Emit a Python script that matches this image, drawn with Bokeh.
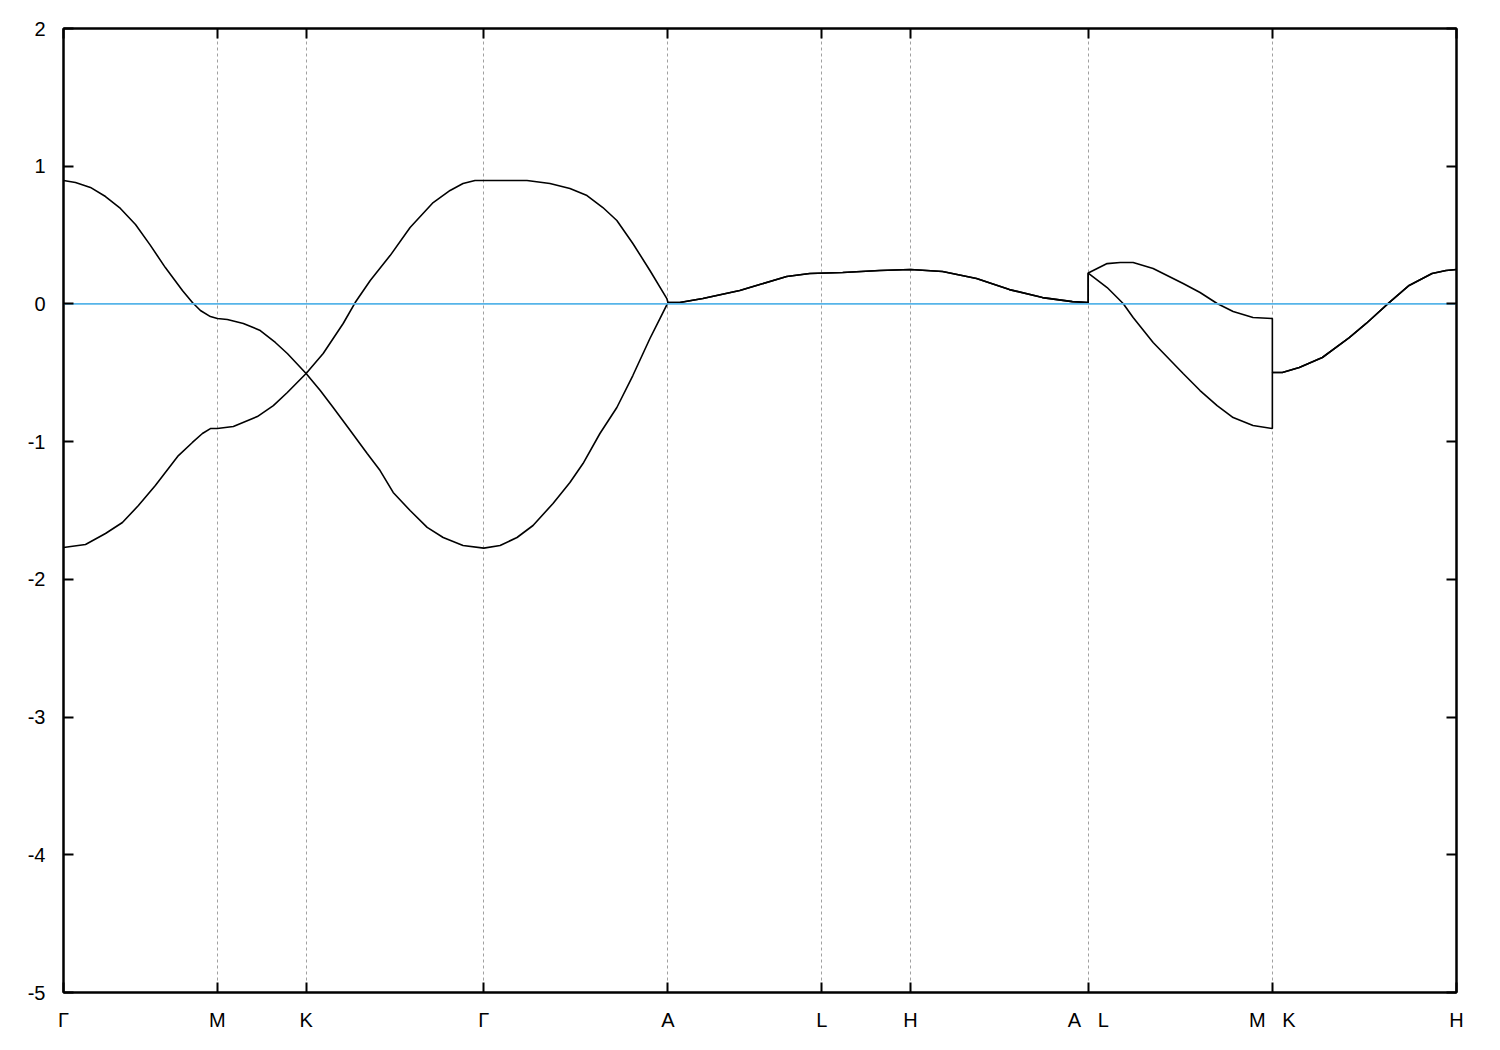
from bokeh.plotting import figure
from bokeh.models import Range1d, FixedTicker, LinearAxis, Grid
from bokeh.embed import file_html
from bokeh.resources import INLINE

# High-symmetry points (path coordinate) and labels
tick_pos = [0.0, 1.0, 1.577, 2.732, 3.929, 4.929, 5.506, 6.661, 7.858, 9.055]
nb = "\u00a0"
tick_labels = ["Γ", "M", "K", "Γ", "A", "L", "H", "A" + nb * 3 + "L", "M" + nb * 3 + "K", "H"]
y_ticks = [-5, -4, -3, -2, -1, 0, 1, 2]

# Band 1 (starts at +0.9 eV at Γ): Γ-M-K-Γ-A
b1_k = [0.0, 0.078, 0.175, 0.273, 0.370, 0.468, 0.565, 0.662, 0.773, 0.838, 0.890, 0.955,
        1.0, 1.065, 1.169, 1.279, 1.377, 1.455, 1.577, 1.669, 1.753, 1.864, 1.974, 2.058,
        2.143, 2.253, 2.364, 2.468, 2.597, 2.732, 2.838, 2.948, 3.052, 3.182, 3.292, 3.377,
        3.487, 3.597, 3.701, 3.812, 3.877, 3.929]
b1_e = [0.896, 0.882, 0.846, 0.780, 0.693, 0.577, 0.425, 0.264, 0.097, 0.010, -0.048, -0.092,
        -0.106, -0.113, -0.142, -0.193, -0.280, -0.360, -0.505, -0.629, -0.752, -0.919, -1.086, -1.210,
        -1.369, -1.500, -1.623, -1.696, -1.754, -1.773, -1.754, -1.696, -1.609, -1.449, -1.297, -1.159,
        -0.941, -0.752, -0.520, -0.251, -0.106, 0.010]

# Band 2 (starts at -1.77 eV at Γ): Γ-M-K-Γ-A
b2_k = [0.0, 0.143, 0.273, 0.383, 0.487, 0.597, 0.682, 0.747, 0.838, 0.903, 0.955, 1.0,
        1.104, 1.260, 1.364, 1.455, 1.577, 1.688, 1.753, 1.818, 1.896, 1.994, 2.123, 2.253,
        2.403, 2.513, 2.597, 2.675, 2.732, 3.013, 3.162, 3.292, 3.403, 3.506, 3.597, 3.701,
        3.812, 3.922, 3.929]
b2_e = [-1.769, -1.747, -1.667, -1.587, -1.464, -1.318, -1.195, -1.101, -1.006, -0.941, -0.905, -0.905,
        -0.890, -0.818, -0.738, -0.643, -0.505, -0.360, -0.251, -0.142, 0.010, 0.170, 0.351, 0.555,
        0.736, 0.824, 0.874, 0.896, 0.896, 0.896, 0.874, 0.838, 0.787, 0.700, 0.606, 0.439,
        0.243, 0.039, 0.010]

# A-L-H-A (degenerate, shared by both bands)
alha_k = [3.929, 4.006, 4.156, 4.396, 4.526, 4.701, 4.851, 5.065, 5.305, 5.506, 5.714, 5.935,
          6.149, 6.364, 6.558, 6.661]
alha_e = [0.010, 0.010, 0.039, 0.097, 0.141, 0.199, 0.221, 0.228, 0.243, 0.250, 0.235, 0.184,
          0.104, 0.046, 0.017, 0.010]

# L-M (band 1 upper branch, band 2 lower branch)
lm_k = [6.661, 6.784, 6.869, 6.953, 7.083, 7.278, 7.388, 7.499, 7.603, 7.732, 7.858]
lm_e1 = [0.224, 0.293, 0.301, 0.301, 0.257, 0.148, 0.083, 0.003, -0.055, -0.099, -0.106]
lm_k2 = [6.661, 6.784, 6.888, 6.953, 7.083, 7.278, 7.388, 7.499, 7.603, 7.732, 7.858]
lm_e2 = [0.224, 0.119, 0.003, -0.099, -0.280, -0.505, -0.629, -0.738, -0.825, -0.883, -0.905]

# K-H (degenerate, shared)
kh_k = [7.858, 7.923, 8.033, 8.183, 8.358, 8.468, 8.617, 8.747, 8.896, 8.987, 9.055]
kh_e = [-0.498, -0.498, -0.462, -0.389, -0.244, -0.142, 0.010, 0.134, 0.221, 0.243, 0.250]

fermi = 0.0

band1_x = b1_k + alha_k + lm_k + kh_k
band1_y = b1_e + alha_e + lm_e1 + kh_e
band2_x = b2_k + alha_k + lm_k2 + kh_k
band2_y = b2_e + alha_e + lm_e2 + kh_e

FONT = "Liberation Sans"
FS = "20px"

p = figure(width=1492, height=1042, output_backend="svg", toolbar_location=None,
           x_range=Range1d(tick_pos[0], tick_pos[-1]), y_range=Range1d(-5, 2),
           min_border_left=63, min_border_right=36, min_border_top=28, min_border_bottom=50,
           x_axis_location=None, y_axis_location=None)
p.background_fill_color = "white"
p.border_fill_color = "white"
p.outline_line_color = "black"
p.outline_line_width = 2
p.xgrid.visible = False
p.ygrid.visible = False
for g in p.grid:
    g.visible = False

def style_axis(ax, show_labels, ticks, overrides=None):
    ax.ticker = FixedTicker(ticks=ticks)
    ax.minor_tick_line_color = None
    ax.major_tick_in = 10
    ax.major_tick_out = 0
    ax.major_tick_line_color = "black"
    ax.major_tick_line_width = 2
    ax.axis_line_color = "black"
    ax.axis_line_width = 2
    ax.major_label_text_font = FONT
    ax.major_label_text_font_size = FS
    ax.major_label_text_color = "black" if show_labels else None
    if overrides:
        ax.major_label_overrides = overrides

bottom = LinearAxis()
style_axis(bottom, True, tick_pos, {t: l for t, l in zip(tick_pos, tick_labels)})
bottom.major_label_standoff = 16
p.add_layout(bottom, "below")

top = LinearAxis()
style_axis(top, False, tick_pos)
top.major_label_text_font_size = "0px"
p.add_layout(top, "above")

left = LinearAxis()
style_axis(left, True, y_ticks, {v: str(v) for v in y_ticks})
left.major_label_standoff = 18
p.add_layout(left, "left")

right = LinearAxis()
style_axis(right, False, y_ticks)
right.major_label_text_font_size = "0px"
p.add_layout(right, "right")

vgrid = Grid(dimension=0, ticker=FixedTicker(ticks=tick_pos[1:-1]),
             grid_line_color="#a0a0a0", grid_line_dash="3 3", grid_line_width=1)
p.add_layout(vgrid)

p.line(band1_x, band1_y, line_color="black", line_width=1.6)
p.line(band2_x, band2_y, line_color="black", line_width=1.6)

p.line([tick_pos[0], tick_pos[-1]], [fermi, fermi], line_color="#56b4e9", line_width=1.8)

open("out.html", "w").write(file_html(p, INLINE))
